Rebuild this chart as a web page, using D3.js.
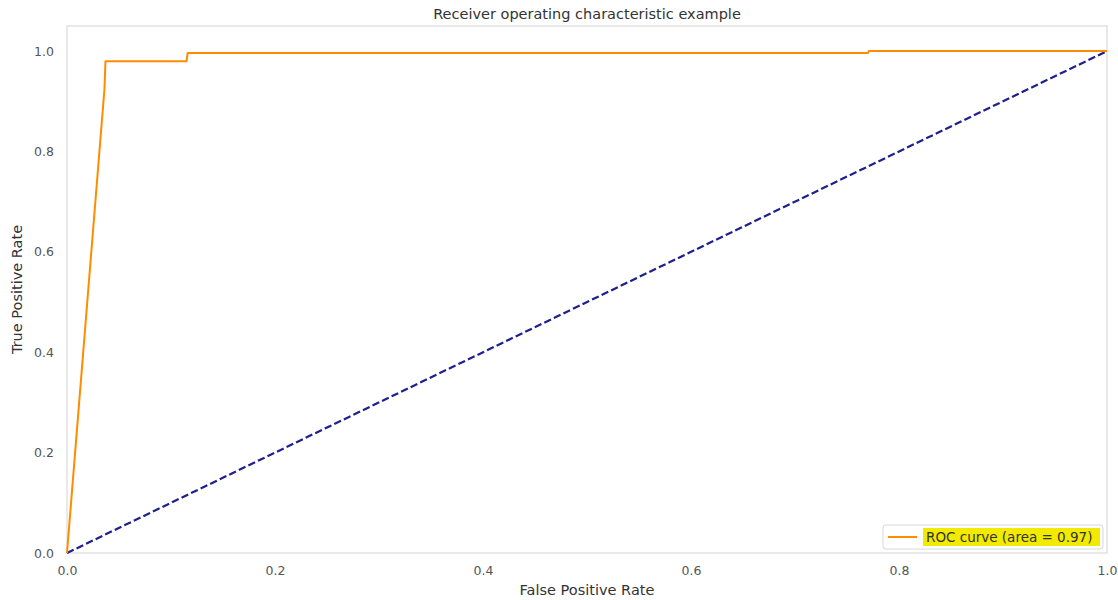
<!DOCTYPE html>
<html><head><meta charset="utf-8">
<script src="https://cdn.jsdelivr.net/npm/d3@7"></script>
<style>body{margin:0;background:#fff;} text{font-family:"DejaVu Sans",sans-serif;}</style>
</head><body><svg id="c" width="1118" height="600"></svg>
<script>
const fpr = [0, 0.036, 0.037, 0.115, 0.116, 0.770, 0.771, 1.0];
const tpr = [0, 0.924, 0.98, 0.98, 0.996, 0.996, 1.0, 1.0];
const diagX = [0, 1];
const diagY = [0, 1];
const xTicks = [0, 0.2, 0.4, 0.6, 0.8, 1.0];
const yTicks = [0, 0.2, 0.4, 0.6, 0.8, 1.0];
const titleText = "Receiver operating characteristic example";
const legendText = "ROC curve (area = 0.97)";

const svg = d3.select("#c");
const L = 67, R = 1107, T = 26, B = 553;
const x = d3.scaleLinear().domain([0, 1]).range([L, R]);
const y = d3.scaleLinear().domain([0, 1.05]).range([B, T]);

// frame
svg.append("rect").attr("x", L).attr("y", T).attr("width", R - L).attr("height", B - T)
  .attr("fill", "#fff").attr("stroke", "#dcdcdc").attr("stroke-width", 1.25);

// axes
const xa = svg.append("g").attr("transform", `translate(0,${B})`)
  .call(d3.axisBottom(x).tickValues(xTicks).tickFormat(d3.format(".1f")).tickSize(0).tickPadding(13));
const ya = svg.append("g").attr("transform", `translate(${L},0)`)
  .call(d3.axisLeft(y).tickValues(yTicks).tickFormat(d3.format(".1f")).tickSize(0).tickPadding(13));
[xa, ya].forEach(a => {
  a.select(".domain").remove();
  a.selectAll("text").attr("fill", "#555").attr("font-size", 12.5).attr("font-family", "DejaVu Sans");
});

// diagonal
svg.append("path").datum(diagX.map((d, i) => [d, diagY[i]]))
  .attr("d", d3.line().x(d => x(d[0])).y(d => y(d[1])))
  .attr("fill", "none").attr("stroke", "#1f1f8f").attr("stroke-width", 2.2)
  .attr("stroke-dasharray", "7.4,3.2");

// ROC curve
svg.append("path").datum(fpr.map((d, i) => [d, tpr[i]]))
  .attr("d", d3.line().x(d => x(d[0])).y(d => y(d[1])))
  .attr("fill", "none").attr("stroke", "#ff8c00").attr("stroke-width", 2).attr("stroke-linejoin", "round");

// title & labels
svg.append("text").attr("x", (L + R) / 2).attr("y", 19).attr("text-anchor", "middle")
  .attr("font-size", 14.5).attr("fill", "#333").text(titleText);
svg.append("text").attr("x", (L + R) / 2).attr("y", 595).attr("text-anchor", "middle")
  .attr("font-size", 14.5).attr("fill", "#333").text("False Positive Rate");
svg.append("text").attr("transform", `translate(22,${(T + B) / 2}) rotate(-90)`).attr("text-anchor", "middle")
  .attr("font-size", 14.5).attr("fill", "#333").text("True Positive Rate");

// legend
const lg = svg.append("g");
lg.append("rect").attr("x", 883).attr("y", 525).attr("width", 220).attr("height", 24).attr("rx", 3)
  .attr("fill", "#fff").attr("stroke", "#d8d8d8").attr("stroke-width", 1);
lg.append("line").attr("x1", 888).attr("x2", 917).attr("y1", 537).attr("y2", 537)
  .attr("stroke", "#ff8c00").attr("stroke-width", 2);
lg.append("rect").attr("x", 923).attr("y", 528).attr("width", 177).attr("height", 18).attr("fill", "#f2ea00");
lg.append("text").attr("x", 926).attr("y", 542).attr("font-size", 13.5).attr("fill", "#333").text(legendText);
</script></body></html>
